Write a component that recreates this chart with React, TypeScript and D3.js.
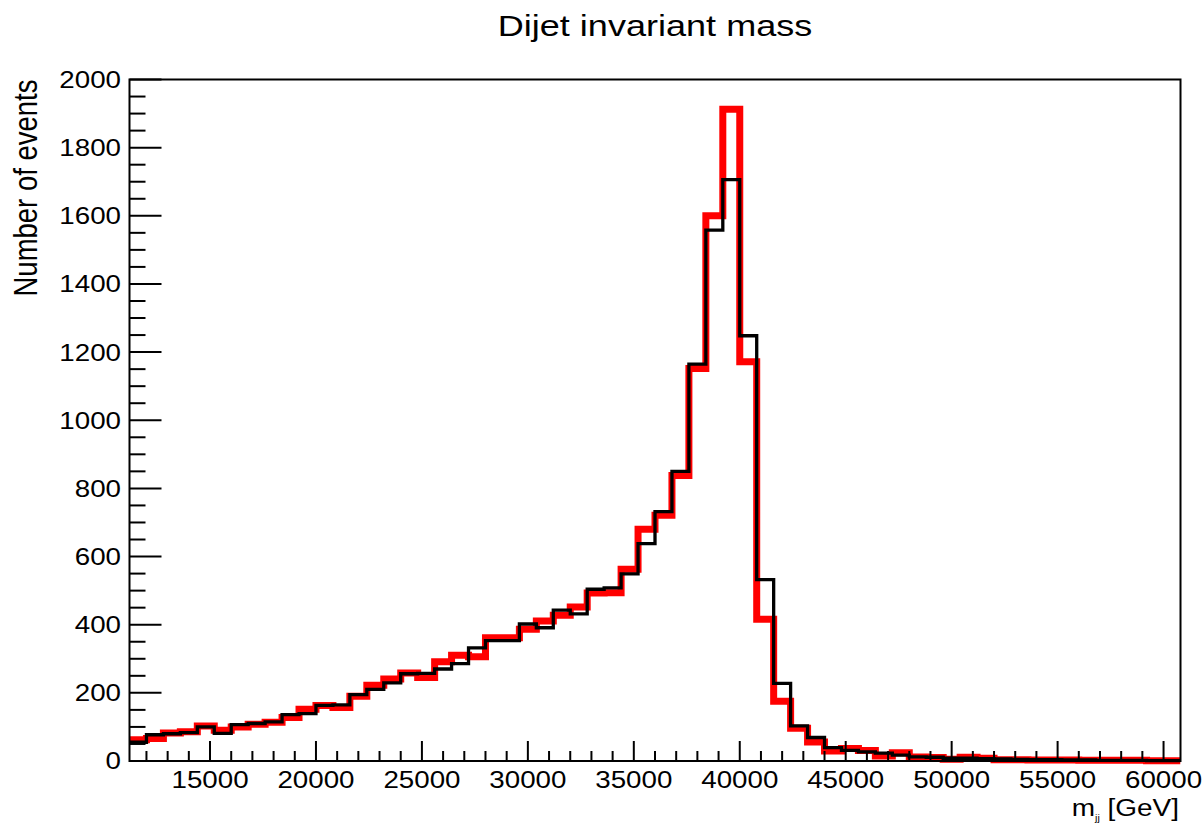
import React from "react";
import * as d3 from "d3";

// Histogram binning (GeV)
const xMin = 11200;
const xMax = 60800;
const nBins = 62;

// Bin contents
const redCounts = [62,66,82,86,103,90,100,108,114,128,152,163,157,190,222,241,258,245,291,310,306,362,362,387,411,428,452,493,494,563,680,721,838,1152,1600,1913,1172,416,175,96,56,29,37,31,15,24,12,10,5,11,8,4,4,3,3,3,2,2,2,2,1,1];
const blackCounts = [55,77,80,83,100,81,107,110,115,136,139,163,165,195,210,229,256,257,270,286,332,353,353,402,391,443,432,504,508,549,638,732,850,1165,1558,1706,1248,532,228,103,69,39,31,27,23,17,12,11,8,8,7,6,5,4,4,3,3,2,2,2,1,1];

const xMajorTicks = [15000, 20000, 25000, 30000, 35000, 40000, 45000, 50000, 55000, 60000];
const yMajorTicks = [0, 200, 400, 600, 800, 1000, 1200, 1400, 1600, 1800, 2000];

const title = "Dijet invariant mass";
const yTitle = "Number of events";

const W = 1204;
const H = 824;
const L = 129.5, R = 1180.5, T = 79.5, B = 761;
const SX = 1.19;
const FONT = "'Liberation Sans', Arial, Helvetica, sans-serif";

export default function App() {
  const x = d3.scaleLinear().domain([xMin, xMax]).range([L, R]);
  const y = d3.scaleLinear().domain([0, 2000]).range([B, T]);
  const bw = (xMax - xMin) / nBins;

  const histPts = (vals: number[]): [number, number][] => {
    const pts: [number, number][] = [];
    vals.forEach((v, i) => {
      pts.push([x(xMin + i * bw), y(v)]);
      pts.push([x(xMin + (i + 1) * bw), y(v)]);
    });
    return pts;
  };
  const line = d3.line<[number, number]>();

  const xMinor = d3.range(12000, 60001, 1000).filter((v) => v % 5000 !== 0);
  const yMinor = d3.range(0, 2001, 50).filter((v) => v % 200 !== 0);

  return (
    <svg width={W} height={H} style={{ position: "absolute", left: 0, top: 0, background: "#fff" }}>
      <defs>
        <clipPath id="frameClip">
          <rect x={L} y={0} width={R - L} height={H} />
        </clipPath>
      </defs>
      <rect x={0} y={0} width={W} height={H} fill="#fff" />
      {/* histograms */}
      <g clipPath="url(#frameClip)">
        <path d={line(histPts(redCounts)) || ""} fill="none" stroke="#ff0000" strokeWidth={7} strokeLinejoin="miter" />
        <path d={line(histPts(blackCounts)) || ""} fill="none" stroke="#000" strokeWidth={3.3} strokeLinejoin="miter" />
      </g>
      {/* frame */}
      <rect x={L} y={T} width={R - L} height={B - T} fill="none" stroke="#000" strokeWidth={2} />
      {/* x ticks */}
      {xMajorTicks.map((v) => (
        <line key={"xm" + v} x1={x(v)} x2={x(v)} y1={B} y2={B - 20} stroke="#000" strokeWidth={2} />
      ))}
      {xMinor.map((v) => (
        <line key={"xn" + v} x1={x(v)} x2={x(v)} y1={B} y2={B - 10} stroke="#000" strokeWidth={2} />
      ))}
      {/* y ticks */}
      {yMajorTicks.map((v) => (
        <line key={"ym" + v} x1={L} x2={L + 32} y1={y(v)} y2={y(v)} stroke="#000" strokeWidth={2} />
      ))}
      {yMinor.map((v) => (
        <line key={"yn" + v} x1={L} x2={L + 16} y1={y(v)} y2={y(v)} stroke="#000" strokeWidth={2} />
      ))}
      {/* x tick labels */}
      {xMajorTicks.map((v) => (
        <text key={"xl" + v} transform={`translate(${x(v)},788) scale(${SX},1)`} textAnchor="middle" fontFamily={FONT} fontSize={23.3} fill="#000">
          {String(v)}
        </text>
      ))}
      {/* y tick labels */}
      {yMajorTicks.map((v) => (
        <text key={"yl" + v} transform={`translate(121,${y(v) + 8.4}) scale(${SX},1)`} textAnchor="end" fontFamily={FONT} fontSize={23.3} fill="#000">
          {String(v)}
        </text>
      ))}
      {/* title */}
      <text transform={`translate(${(L + R) / 2},36) scale(${SX},1)`} textAnchor="middle" fontFamily={FONT} fontSize={30.3} fill="#000">
        {title}
      </text>
      {/* y axis title */}
      <text transform={`translate(37,${T}) scale(${SX},1) rotate(-90)`} textAnchor="end" fontFamily={FONT} fontSize={27.5} fill="#000">
        {yTitle}
      </text>
      {/* x axis title */}
      <text transform={`translate(1179,816) scale(${SX},1)`} textAnchor="end" fontFamily={FONT} fontSize={23.5} fill="#000">
        m
        <tspan fontSize={9} dy={5}>jj</tspan>
        <tspan dy={-5}> [GeV]</tspan>
      </text>
    </svg>
  );
}
